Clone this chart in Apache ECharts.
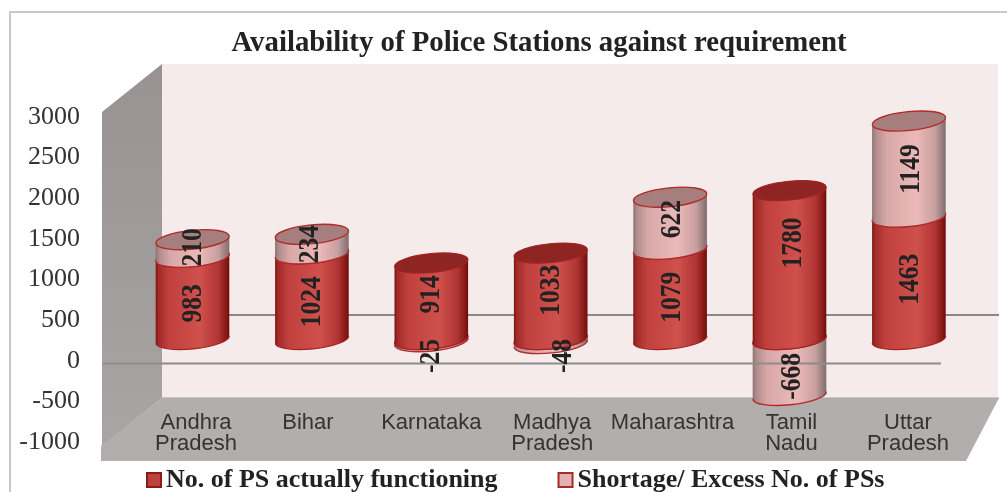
<!DOCTYPE html>
<html>
<head>
<meta charset="utf-8">
<script src="https://cdn.jsdelivr.net/npm/echarts@6/dist/echarts.min.js"></script>
<style>html,body{margin:0;padding:0;background:#fff}#c{width:1007px;height:492px}</style>
</head>
<body>
<div id="c"></div>
<script>
const chartTitle = 'Availability of Police Stations against requirement';
const categories = ['Andhra Pradesh', 'Bihar', 'Karnataka', 'Madhya Pradesh', 'Maharashtra', 'Tamil Nadu', 'Uttar Pradesh'];
const functioningName = 'No. of PS actually functioning';
const shortageName = 'Shortage/ Excess No. of PSs';
const functioning = [983, 1024, 914, 1033, 1079, 1780, 1463];
const shortage = [210, 234, -25, -48, 622, -668, 1149];
const yTicks = [-1000, 3000, 500];

// Layout only: hand placement of the labels in the source, pixels from their default position.
const funcNudge = [[1.5, 5], [1, 5], [0.5, -7], [0.5, -6], [2.5, 3], [4, -22], [2, 1]];
const shortNudge = [[1.5, -1], [-1, 0], [0.5, 15.5], [12.5, 14.5], [2.5, -4], [3, 9], [3, 0]];
const categoryNudge = [3.5, -4, 0, 1.5, 2.5, 2, -1];

const SERIF = '"Liberation Serif","Times New Roman",serif';
const SANS = '"Liberation Sans",Arial,sans-serif';
const RX = 36.8, RY = 9.4, TILT = -5.7, DY = 3.7;

const grad = stops => ({type: 'linear', x: 0, y: 0, x2: 1, y2: 0,
  colorStops: stops.map(s => ({offset: s[0], color: s[1]}))});
const redSkin = {
  body: grad([[0, '#7a1010'], [0.04, '#a02a28'], [0.18, '#bf403d'], [0.6, '#d0504c'], [0.85, '#b03633'], [0.97, '#801513'], [1, '#6b0a0a']]),
  cap: '#8e2523', capStroke: '#a32322', edge: '#a32322', edgeW: 1.2
};
const pinkSkin = {
  body: grad([[0, '#8a7070'], [0.05, '#b08c8c'], [0.2, '#d8a8a8'], [0.6, '#ebb9b8'], [0.85, '#c8a0a0'], [1, '#7f6b6b']]),
  cap: '#a67e7e', capStroke: '#b22a2a', edge: '#b22a2a', edgeW: 1.4
};

function cylinder(skin, rise) {
  return function (params, api) {
    const i = api.value(0);
    const bot = api.coord([i, api.value(1)]);
    const top = api.coord([i, api.value(2)]);
    const x = bot[0];
    const arc = `A${RX} ${RY} ${TILT} 0 0`;
    const bodyPath = `M${x - RX} ${top[1] + DY}L${x - RX} ${bot[1] + DY}${arc} ${x + RX} ${bot[1] - DY}` +
      `L${x + RX} ${top[1] - DY}${arc} ${x - RX} ${top[1] + DY}Z`;
    const edgePath = `M${x - RX} ${bot[1] + DY}${arc} ${x + RX} ${bot[1] - DY}`;
    const z2 = rise(i) * 10;
    return {
      type: 'group',
      children: [
        {type: 'path', z2: z2, shape: {pathData: bodyPath}, style: {fill: skin.body}},
        {type: 'path', z2: z2 + 1, shape: {pathData: edgePath}, style: {fill: 'none', stroke: skin.edge, lineWidth: skin.edgeW}},
        {type: 'ellipse', z2: z2 + 2, x: x, y: top[1], rotation: -TILT * Math.PI / 180,
          shape: {cx: 0, cy: 0, rx: RX, ry: RY},
          style: {fill: skin.cap, stroke: skin.capStroke, lineWidth: skin.edgeW}}
      ]
    };
  };
}

function labelItem(params, api) {
  const i = api.value(0);
  const mid = (api.value(1) + api.value(2)) / 2;
  const p = api.coord([i, mid]);
  const n = api.value(4) ? funcNudge[i] : shortNudge[i];
  return {
    type: 'text', x: p[0] + n[0], y: p[1] + n[1], rotation: Math.PI / 2, scaleY: 1.12,
    style: {text: String(api.value(3)), fontFamily: SERIF, fontWeight: 'bold', fontSize: 25.5,
      fill: '#222', align: 'center', verticalAlign: 'middle'}
  };
}

const funcSeg = functioning.map((v, i) => [i, 0, v]);
const shortSeg = shortage.map((v, i) => v < 0 ? [i, v, 0] : [i, functioning[i], functioning[i] + v]);
const labelData = functioning.map((v, i) => [i, 0, v, v, 1])
  .concat(shortage.map((v, i) => [i, shortSeg[i][1], shortSeg[i][2], v, 0]));
const categoryItems = categories.map((c, i) => {
  const s = categoryNudge[i] * 2;
  return {value: c, textStyle: {padding: s >= 0 ? [0, 0, 0, s] : [0, -s, 0, 0]}};
});

const chart = echarts.init(document.getElementById('c'), null, {renderer: 'canvas'});
chart.setOption({
  animation: false,
  backgroundColor: '#fff',
  title: {
    text: chartTitle, left: 534, top: 24, textAlign: 'center',
    textStyle: {fontFamily: SERIF, fontWeight: 'bold', fontSize: 28.8, color: '#222'}
  },
  legend: {
    data: [
      {name: functioningName, icon: 'rect'},
      {name: shortageName, icon: 'rect'}
    ],
    left: 146, top: 467, padding: 0, itemWidth: 14, itemHeight: 14, itemGap: 60,
    textStyle: {fontFamily: SERIF, fontWeight: 'bold', fontSize: 26, color: '#222'}
  },
  grid: [
    {left: 80, width: 20, top: 117, height: 325},
    {left: 132.8, width: 835.8, top: 88.55, height: 317.87}
  ],
  xAxis: [
    {gridIndex: 0, type: 'value', show: false},
    {gridIndex: 1, type: 'category', data: categoryItems, position: 'bottom',
      axisLine: {show: false, onZero: false}, axisTick: {show: false},
      axisLabel: {interval: 0, margin: 6, fontFamily: SANS, fontSize: 22, color: '#333', lineHeight: 21,
        formatter: s => s.replace(' ', '\n')}}
  ],
  yAxis: [
    {gridIndex: 0, type: 'value', min: yTicks[0], max: yTicks[1], interval: yTicks[2],
      axisLine: {show: false}, axisTick: {show: false}, splitLine: {show: false},
      axisLabel: {margin: 0, fontFamily: SERIF, fontSize: 26, color: '#333', formatter: v => String(v)}},
    {gridIndex: 1, type: 'value', min: -800, max: 3000, show: false, splitLine: {show: false}}
  ],
  graphic: {elements: [
    {type: 'rect', z: 0, shape: {x: 10, y: 12, width: 1100, height: 600}, style: {fill: '#fff', stroke: '#c9c9c9', lineWidth: 2}},
    {type: 'rect', z: 0, shape: {x: 162, y: 64, width: 836, height: 334}, style: {fill: '#f5ebeb'}},
    {type: 'polygon', z: 0, shape: {points: [[102, 112], [162, 64], [162, 398], [102, 446]]},
      style: {fill: {type: 'linear', x: 0, y: 0, x2: 0, y2: 1, colorStops: [{offset: 0, color: '#989292'}, {offset: 1, color: '#a9a5a5'}]}}},
    {type: 'polygon', z: 0, shape: {points: [[162, 398], [999, 398], [966, 461], [101, 461], [101, 446]]}, style: {fill: '#b3aeae'}},
    {type: 'line', z: 0, shape: {x1: 162, y1: 398, x2: 999, y2: 398}, style: {stroke: '#a8a4a4', lineWidth: 1}},
    {type: 'line', z: 1, shape: {x1: 162, y1: 315, x2: 999, y2: 315}, style: {stroke: '#888', lineWidth: 2}},
    {type: 'line', z: 3, shape: {x1: 103, y1: 363.5, x2: 941, y2: 363.5}, style: {stroke: '#8c8c8c', lineWidth: 2}}
  ]},
  series: [
    {name: functioningName, type: 'custom', xAxisIndex: 1, yAxisIndex: 1, z: 2, clip: false,
      itemStyle: {color: '#c0403c', borderColor: '#8b1a1a', borderWidth: 1.5},
      encode: {x: 0, y: [1, 2]}, data: funcSeg,
      renderItem: cylinder(redSkin, i => shortage[i] < 0 ? 2 : 1)},
    {name: shortageName, type: 'custom', xAxisIndex: 1, yAxisIndex: 1, z: 2, clip: false,
      itemStyle: {color: '#e2b3b1', borderColor: '#a52a2a', borderWidth: 1.5},
      encode: {x: 0, y: [1, 2]}, data: shortSeg,
      renderItem: cylinder(pinkSkin, i => shortage[i] < 0 ? 1 : 2)},
    {name: 'labels', type: 'custom', xAxisIndex: 1, yAxisIndex: 1, z: 4, clip: false,
      encode: {x: 0, y: [1, 2]}, data: labelData, renderItem: labelItem}
  ]
});
</script>
</body>
</html>
